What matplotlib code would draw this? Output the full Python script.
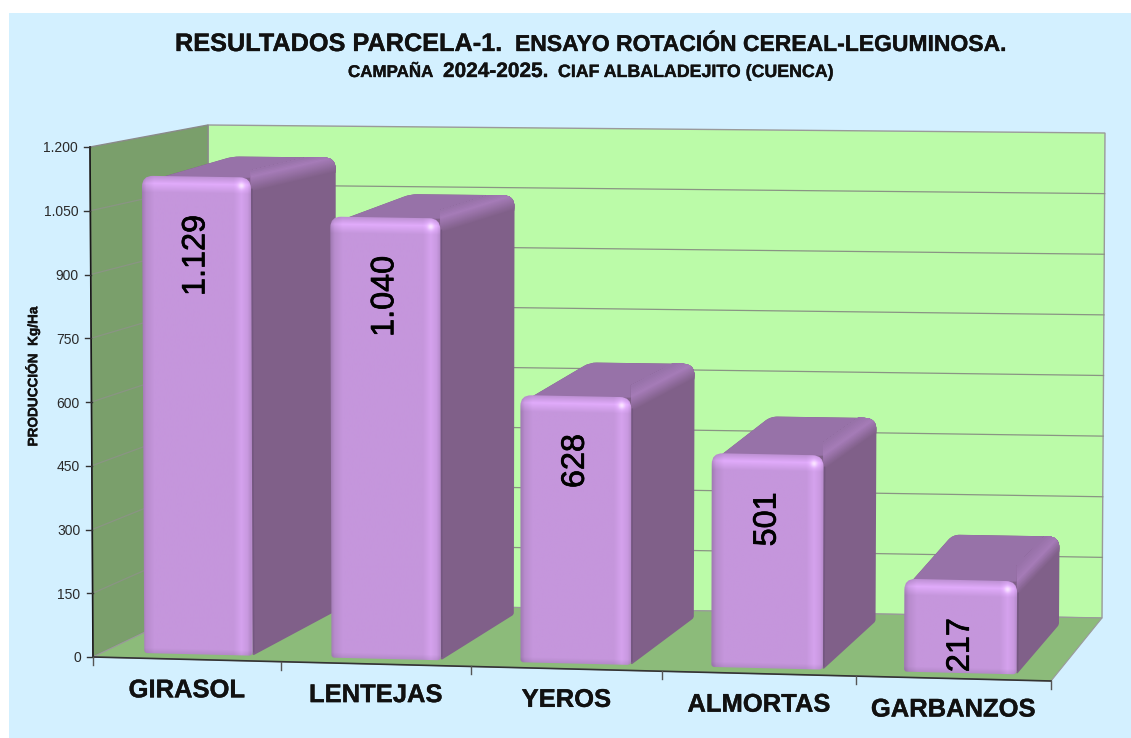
import numpy as np
import matplotlib
matplotlib.use("Agg")
import matplotlib.pyplot as plt
import matplotlib.patheffects as pe
from matplotlib.colors import to_rgb
from matplotlib.path import Path
from matplotlib.patches import PathPatch, Polygon, Rectangle

plt.rcParams["font.family"] = ["Liberation Sans", "DejaVu Sans"]

categories = ["GIRASOL", "LENTEJAS", "YEROS", "ALMORTAS", "GARBANZOS"]
values = [1129, 1040, 628, 501, 217]
value_labels = ["1.129", "1.040", "628", "501", "217"]
y_ticks = [0, 150, 300, 450, 600, 750, 900, 1050, 1200]
y_tick_labels = ["0", "150", "300", "450", "600", "750", "900", "1.050", "1.200"]
y_max = 1200

ylabel_text = "PRODUCCIÓN  Kg/Ha"

W, H = 1131, 738

# corners of the 3d box in picture pixels: (u, depth, v)
box = {
    (0, 0, 0): (93, 657),
    (1, 0, 0): (1051, 681),
    (0, 1, 0): (208, 602),
    (1, 1, 0): (1102, 618),
    (0, 0, 1): (90, 147),
    (1, 0, 1): (1054, 163),
    (0, 1, 1): (208, 125),
    (1, 1, 1): (1105, 133),
}

BG = "#D3F0FF"
BACK_WALL = "#BBFBA8"
SIDE_WALL = "#7A9F6B"
FLOOR = "#8CBB7A"
GRID = "#8A9484"
BAR_FRONT = np.array([0xC5, 0x96, 0xDC]) / 255
BAR_SIDE = "#806089"
BAR_TOP = "#9772A8"
BAR_EDGE = "#A67CB8"


def project(cat, depth, val):
    u = cat / len(categories)
    u = u - 0.024 * u * (1 - u)  # slight foreshortening along the floor
    v = val / y_max
    x, y = 0.0, 0.0
    for (a, b, c), (px, py) in box.items():
        w = (u if a else 1 - u) * (depth if b else 1 - depth) * (v if c else 1 - v)
        x += w * px
        y += w * py
    return x, y


def rounded_path(pts, radii):
    verts, codes = [], []
    n = len(pts)
    for i in range(n):
        p = np.array(pts[i], float)
        prev = np.array(pts[i - 1], float)
        nxt = np.array(pts[(i + 1) % n], float)
        r = radii[i]
        a = p + (prev - p) / np.linalg.norm(prev - p) * r
        b = p + (nxt - p) / np.linalg.norm(nxt - p) * r
        verts.append(a)
        codes.append(Path.MOVETO if i == 0 else Path.LINETO)
        verts += [p, b]
        codes += [Path.CURVE3, Path.CURVE3]
    verts.append(verts[0])
    codes.append(Path.CLOSEPOLY)
    return Path(verts, codes)


def mix(c1, c2, t):
    a, b = np.array(to_rgb(c1)), np.array(to_rgb(c2))
    return tuple(a + (b - a) * t)


def draw_front(ax, tl, tr, br, bl, zorder):
    x0, x1 = min(tl[0], bl[0]), max(tr[0], br[0])
    y0, y1 = min(tl[1], tr[1]), max(bl[1], br[1])
    xs = np.arange(np.floor(x0), np.ceil(x1) + 1)
    ys = np.arange(np.floor(y0), np.ceil(y1) + 1)
    X, Y = np.meshgrid(xs, ys)
    t = (X - tl[0]) / (tr[0] - tl[0])
    d_left = X - tl[0]
    d_right = tr[0] - X
    d_top = Y - (tl[1] + t * (tr[1] - tl[1]))
    d_bot = (bl[1] + t * (br[1] - bl[1])) - Y

    f = np.ones_like(X, dtype=float)
    f *= np.interp(d_left, [0, 4, 12], [0.82, 0.93, 1.0])
    f *= np.interp(d_right, [0, 3, 9, 17], [0.93, 1.02, 1.08, 1.0])
    f *= np.interp(d_top, [0, 7, 16], [0.97, 1.14, 1.0])
    f *= np.interp(d_bot, [0, 5], [0.92, 1.0])
    rgb = np.clip(BAR_FRONT[None, None, :] * f[:, :, None], 0, 1)
    # small glint near the top right corner
    glint = np.exp(-((d_right - 9) ** 2 + (d_top - 8) ** 2) / 10.0)[:, :, None]
    rgb = rgb + (1 - rgb) * glint * 0.65

    im = ax.imshow(rgb, extent=(xs[0], xs[-1], ys[-1], ys[0]), origin="upper",
                   aspect="auto", zorder=zorder, interpolation="bilinear")
    clip = PathPatch(rounded_path([tl, tr, br, bl], [11, 11, 4, 3]), transform=ax.transData)
    im.set_clip_path(clip)


def draw_bar(ax, i, val, z):
    u0, u1 = i + 0.22, i + 0.80
    d0, d1 = 0.09, 0.88
    ftl = project(u0, d0, val)
    ftr = project(u1, d0, val)
    fbl = project(u0, d0, 0)
    fbr = project(u1, d0, 0)
    btl = project(u0, d1, val)
    btr = project(u1, d1, val)
    bbr = project(u1, d1, 0)

    start = (ftl[0] + 4, ftl[1] + 6)
    outline = rounded_path([start, btl, btr, bbr, fbr, (ftr[0] - 6, ftr[1] + 6)], [2, 7, 12, 2, 2, 2])
    ax.add_patch(PathPatch(outline, fc=BAR_SIDE, ec="none", zorder=z))

    def clipped(pts, col):
        p = Polygon(pts, fc=col, ec=col, lw=0.3, zorder=z)
        ax.add_patch(p)
        p.set_clip_path(PathPatch(outline, transform=ax.transData))

    clipped([start, btl, btr, ftr], BAR_TOP)
    # roll-over between the top and the side, drawn from the lowest strip upwards
    up = 0.35 * (ftr[1] - btr[1])
    for off in np.arange(15, -up, -1.5):
        if off > -1:
            col = mix(BAR_EDGE, BAR_SIDE, off / 15)
        else:
            col = mix(BAR_EDGE, BAR_TOP, -off / up)
        clipped([(ftr[0], ftr[1] + off), (btr[0], btr[1] + off),
                 (btr[0], btr[1] - up), (ftr[0], ftr[1] - up)], col)

    # thin dark line next to the front face
    ax.plot([ftr[0] + 1, fbr[0] + 1], [ftr[1] + 12, fbr[1] - 4], color="#745780", lw=1.2, zorder=z)
    draw_front(ax, ftl, ftr, fbr, fbl, z)

    # value label, rotated, hung from the bar top
    cx = (ftl[0] + ftr[0]) / 2
    ax.text(cx, (ftl[1] + ftr[1]) / 2 + 38, value_labels[i], rotation=90, ha="center", va="top",
            fontsize=23.3, color="black", zorder=z + 1,
            path_effects=[pe.withStroke(linewidth=0.5, foreground="black")])


def bold_text(ax, x, y, s, size, **kw):
    return ax.text(x, y, s, fontsize=size, fontweight="bold", color="#111111",
                   path_effects=[pe.withStroke(linewidth=0.25, foreground="#111111")], **kw)


def main():
    fig = plt.figure(figsize=(W / 100, H / 100), dpi=100, facecolor="white")
    ax = fig.add_axes([0, 0, 1, 1])
    ax.axis("off")

    ax.add_patch(Rectangle((9, 13), W - 9, H - 13, fc=BG, ec="none", zorder=0))

    n = len(categories)
    # walls and floor
    ax.add_patch(Polygon([project(0, 1, 0), project(n, 1, 0), project(n, 1, y_max), project(0, 1, y_max)],
                         fc=BACK_WALL, ec="#9A9A9A", lw=1, zorder=1))
    ax.add_patch(Polygon([project(0, 0, 0), project(0, 1, 0), project(0, 1, y_max), project(0, 0, y_max)],
                         fc=SIDE_WALL, ec="#8A8A8A", lw=1, zorder=1))
    ax.add_patch(Polygon([project(0, 0, 0), project(n, 0, 0), project(n, 1, 0), project(0, 1, 0)],
                         fc=FLOOR, ec="#9A9A9A", lw=0.8, zorder=1))

    # grid lines run over the side wall and the back wall
    for t in y_ticks[1:-1]:
        a, b, c = project(0, 0, t), project(0, 1, t), project(n, 1, t)
        ax.plot([a[0], b[0], c[0]], [a[1], b[1], c[1]], color=GRID, lw=0.9, zorder=2)

    # axes
    a, b = project(0, 0, 0), project(0, 0, y_max)
    ax.plot([a[0], b[0]], [a[1], b[1]], color="#1A1A1A", lw=1.2, zorder=3)
    a, b = project(0, 0, 0), project(n, 0, 0)
    ax.plot([a[0], b[0]], [a[1], b[1]], color="#333333", lw=1.2, zorder=3)
    for t, lab in zip(y_ticks, y_tick_labels):
        x, y = project(0, 0, t)
        ax.plot([x - 6, x], [y, y], color="#333333", lw=1, zorder=3)
        ax.text(x - 12, y + 1.5, lab, ha="right", va="center", fontsize=10, color="#2A2A2A")
    for i in range(n + 1):
        x, y = project(i, 0, 0)
        ax.plot([x, x], [y, y + 8], color="#555555", lw=1, zorder=3)

    for i, val in enumerate(values):
        draw_bar(ax, i, val, 4 + i * 2)

    for i, name in enumerate(categories):
        x, y = project(i + 0.5, 0, 0)
        bold_text(ax, x, y + 31, name, 18.4, ha="center", va="center")

    # the title and subtitle mix font sizes, so they are placed piece by piece
    bold_text(ax, 175, 51, "RESULTADOS PARCELA-1.", 18.2, ha="left", va="baseline")
    bold_text(ax, 515, 51, "ENSAYO ROTACIÓN CEREAL-LEGUMINOSA.", 16.5, ha="left", va="baseline")
    bold_text(ax, 348, 77, "CAMPAÑA", 12.2, ha="left", va="baseline")
    bold_text(ax, 443, 77, "2024-2025.", 15, ha="left", va="baseline")
    bold_text(ax, 558, 77, "CIAF ALBALADEJITO (CUENCA)", 12.8, ha="left", va="baseline")

    bold_text(ax, 32, 377, ylabel_text, 9.8, rotation=90, ha="center", va="center")

    ax.set_xlim(0, W)
    ax.set_ylim(H, 0)
    fig.savefig("out.png", dpi=100, facecolor="white")


if __name__ == "__main__":
    main()
